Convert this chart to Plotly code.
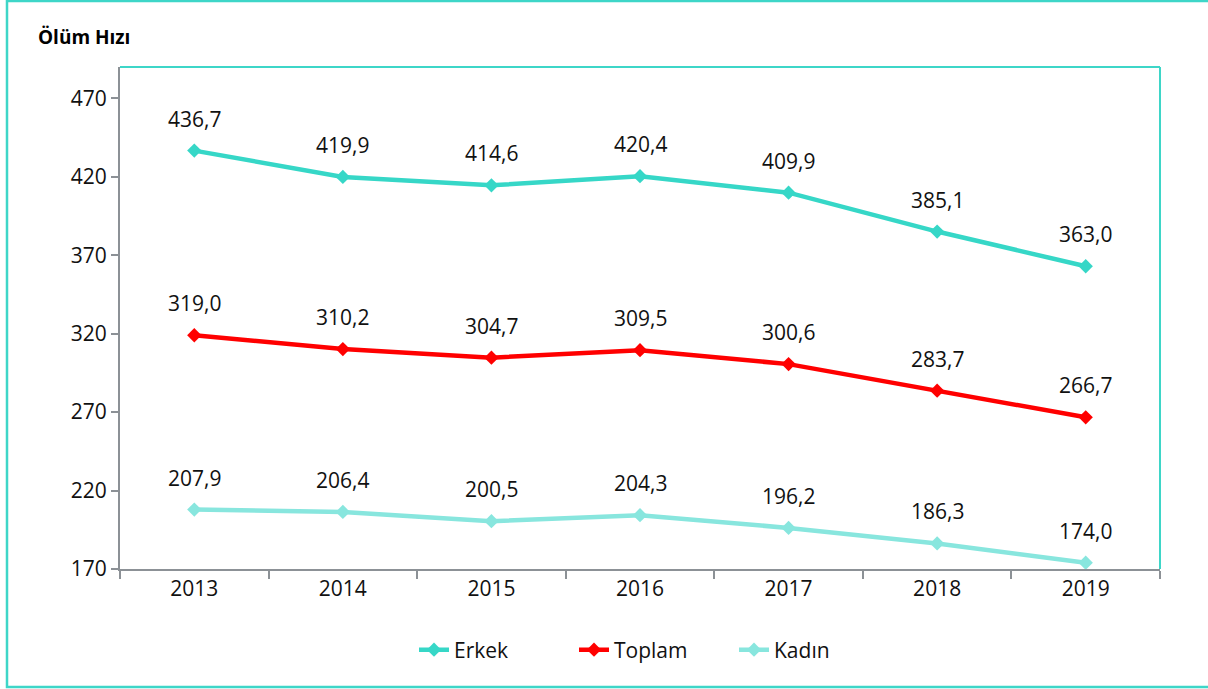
import plotly.graph_objects as go

years = ["2013", "2014", "2015", "2016", "2017", "2018", "2019"]
erkek = [436.7, 419.9, 414.6, 420.4, 409.9, 385.1, 363.0]
toplam = [319.0, 310.2, 304.7, 309.5, 300.6, 283.7, 266.7]
kadin = [207.9, 206.4, 200.5, 204.3, 196.2, 186.3, 174.0]
y_ticks = [170, 220, 270, 320, 370, 420, 470]

series = [
    ("Erkek", erkek, "#36D7C7"),
    ("Toplam", toplam, "#FF0000"),
    ("Kadın", kadin, "#88E6DE"),
]

FONT = "Open Sans"
FS = 21

fig = go.Figure()
for name, vals, col in series:
    fig.add_trace(go.Scatter(
        x=years, y=vals, name=name, mode="lines+markers",
        line=dict(color=col, width=4.5),
        marker=dict(symbol="diamond", size=11, color=col),
    ))

annotations = []
for name, vals, col in series:
    for i, v in enumerate(vals):
        annotations.append(dict(
            x=i, y=v, xref="x", yref="y", showarrow=False,
            text=f"{v:.1f}".replace(".", ","), yshift=32,
            font=dict(family=FONT, size=FS, color="#111111"),
        ))

W, H = 1208, 689
L, R, T, B = 120, 48, 67, 120
pw, ph = W - L - R, H - T - B

def px(x):
    return (x - L) / pw

def py(y):
    return (H - B - y) / ph

annotations.append(dict(
    x=px(36), y=py(37), xref="paper", yref="paper", xanchor="left", yanchor="middle",
    showarrow=False, text="<b>Ölüm Hızı</b>",
    font=dict(family=FONT, size=19, color="#000000"),
))

shapes = [
    dict(type="rect", xref="paper", yref="paper",
         x0=px(7), x1=px(1214), y0=py(687), y1=py(1),
         line=dict(color="#3ED6C8", width=2.5), layer="below"),
    dict(type="line", xref="paper", yref="paper", x0=0, x1=1, y0=1, y1=1,
         line=dict(color="#3ED6C8", width=2)),
    dict(type="line", xref="paper", yref="paper", x0=1, x1=1, y0=0, y1=1,
         line=dict(color="#3ED6C8", width=2)),
]

fig.update_layout(
    width=W, height=H,
    margin=dict(l=L, r=R, t=T, b=B),
    paper_bgcolor="white", plot_bgcolor="white",
    font=dict(family=FONT, size=FS, color="#111111"),
    showlegend=True,
    legend=dict(orientation="h", x=px(654), xanchor="center", y=py(650), yanchor="middle",
                font=dict(family=FONT, size=FS, color="#111111"),
                entrywidth=115, entrywidthmode="pixels",
                tracegroupgap=0),
    annotations=annotations,
    shapes=shapes,
    xaxis=dict(
        type="category", range=[-0.5, 6.5], showgrid=False,
        showline=True, linecolor="#8C9196", linewidth=2,
        ticks="outside", tickson="boundaries", ticklen=8, tickwidth=2, tickcolor="#8C9196",
        tickfont=dict(family=FONT, size=FS, color="#111111"),
        zeroline=False,
    ),
    yaxis=dict(
        range=[170, 490], tickvals=y_ticks, showgrid=False,
        showline=True, linecolor="#8C9196", linewidth=2,
        ticks="outside", ticklen=7, tickwidth=2, tickcolor="#8C9196",
        tickfont=dict(family=FONT, size=FS, color="#111111"),
        zeroline=False, ticksuffix="   ",
    ),
)

fig.write_html("out.html", config={"displayModeBar": False},
               post_script="document.body.style.margin='0';")
